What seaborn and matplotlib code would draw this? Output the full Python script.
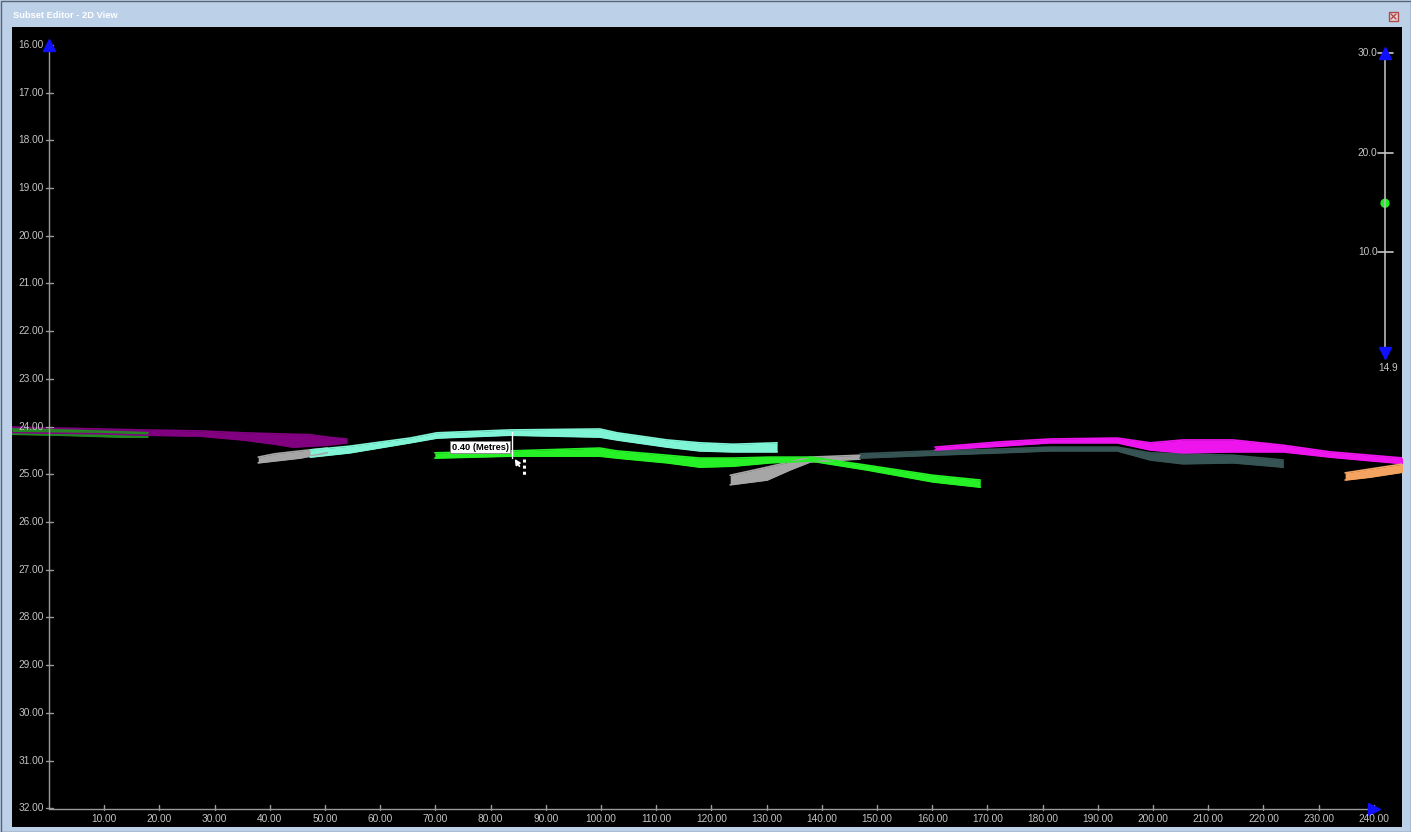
import matplotlib
matplotlib.use("Agg")
import matplotlib.pyplot as plt
from matplotlib.colors import LinearSegmentedColormap
from matplotlib.patches import Rectangle
import numpy as np
import seaborn as sns

# axis ticks of the 2D view (x = distance, y = depth, metres)
x_ticks = [10, 20, 30, 40, 50, 60, 70, 80, 90, 100, 110, 120, 130, 140, 150,
           160, 170, 180, 190, 200, 210, 220, 230, 240]
y_ticks = [16, 17, 18, 19, 20, 21, 22, 23, 24, 25, 26, 27, 28, 29, 30, 31, 32]

# point-cloud bands: x positions with top / bottom depth of each band
purple_x = [-6.7, 9.2, 17.0, 27.4, 35.1, 41.0, 44.2, 47.3, 50.4, 54.0]
purple_top = [24.01, 24.05, 24.07, 24.09, 24.13, 24.15, 24.16, 24.17, 24.22, 24.26]
purple_bot = [24.13, 24.15, 24.18, 24.20, 24.28, 24.37, 24.43, 24.41, 24.39, 24.34]

dkgreen_x = [-6.7, 2.0, 12.9, 17.9]
dkgreen_top = [24.05, 24.07, 24.11, 24.13]
dkgreen_bot = [24.16, 24.18, 24.22, 24.22]

gray1_x = [37.9, 40.9, 45.5, 50.4]
gray1_top = [24.64, 24.57, 24.51, 24.45]
gray1_bot = [24.76, 24.72, 24.66, 24.55]

aqua_x = [47.3, 54.5, 65.4, 70.3, 83.5, 99.8, 102.9, 112.0, 117.9, 123.9, 131.9]
aqua_top = [24.49, 24.41, 24.24, 24.13, 24.07, 24.05, 24.13, 24.28, 24.34, 24.37, 24.34]
aqua_bot = [24.64, 24.55, 24.34, 24.24, 24.18, 24.22, 24.28, 24.43, 24.51, 24.53, 24.53]

gray2_x = [123.4, 130.1, 134.2, 137.9, 146.9]
gray2_top = [25.02, 24.85, 24.74, 24.64, 24.60]
gray2_bot = [25.22, 25.12, 24.91, 24.74, 24.68]

lime_x = [69.9, 83.5, 99.8, 102.9, 112.0, 117.9, 123.9, 130.6, 137.9, 148.2, 160.1, 168.7]
lime_top = [24.55, 24.51, 24.45, 24.51, 24.60, 24.66, 24.66, 24.64, 24.64, 24.81, 25.02, 25.12]
lime_bot = [24.66, 24.62, 24.62, 24.66, 24.76, 24.85, 24.83, 24.76, 24.72, 24.91, 25.16, 25.27]

slate_x = [146.9, 160.1, 172.3, 181.3, 193.5, 199.5, 205.4, 214.5, 223.6]
slate_top = [24.57, 24.51, 24.47, 24.43, 24.43, 24.55, 24.57, 24.60, 24.70]
slate_bot = [24.66, 24.60, 24.55, 24.51, 24.51, 24.70, 24.78, 24.76, 24.85]

magenta_x = [160.5, 172.3, 181.3, 193.5, 199.5, 205.4, 214.5, 223.6, 232.1, 245.5]
magenta_top = [24.43, 24.32, 24.26, 24.24, 24.34, 24.28, 24.28, 24.39, 24.53, 24.66]
magenta_bot = [24.49, 24.41, 24.34, 24.34, 24.49, 24.55, 24.53, 24.53, 24.64, 24.78]

orange_x = [234.8, 239.3, 245.5]
orange_top = [24.97, 24.89, 24.78]
orange_bot = [25.12, 25.06, 24.95]

# measurement between the two surfaces
measure_x = 83.9
measure_top = 24.11
measure_bot = 24.66
measure_label = "0.40 (Metres)"

# colour-range slider on the right
slider_ticks = [10, 20, 30]
slider_value = 14.9

W, H = 1411, 832
fig = plt.figure(figsize=(W / 100, H / 100), dpi=100)
sns.set_style("dark")
plt.rcParams["font.family"] = ["Liberation Sans", "DejaVu Sans"]

# window frame + title bar
frame = fig.add_axes([0, 0, 1, 1], zorder=0)
frame.set_xlim(0, W)
frame.set_ylim(H, 0)
frame.set_axis_off()
frame.add_patch(Rectangle((0, 0), W, H, facecolor="#bcd1e8", edgecolor="none"))
title_cmap = LinearSegmentedColormap.from_list("tb", ["#9bb8de", "#b4cbe7", "#cbdaeb"])
frame.imshow(np.linspace(0, 1, 256).reshape(1, -1), cmap=title_cmap, aspect="auto",
             extent=(1, W - 1, 27, 1))
frame.add_patch(Rectangle((0.5, 0.5), W - 1, H - 1, fill=False, edgecolor="#5a6470", lw=1))
frame.text(13, 15, "Subset Editor - 2D View", color="white", fontsize=6.7,
           fontweight="bold", va="center", ha="left")
frame.add_patch(Rectangle((1389, 12), 9, 9, facecolor="#e8d4d4", edgecolor="#b04a4a", lw=1))
frame.plot([1391, 1396], [14, 19], color="#b04a4a", lw=1)
frame.plot([1391, 1396], [19, 14], color="#b04a4a", lw=1)

# main black view
ax = fig.add_axes([12 / W, (H - 827) / H, 1390 / W, 800 / H], zorder=1)
ax.set_facecolor("black")

bands = [
    ("#800080", purple_x, purple_top, purple_bot),
    ("#228b22", dkgreen_x, dkgreen_top, dkgreen_bot),
    ("#a6a6a6", gray1_x, gray1_top, gray1_bot),
    ("#7ff5d6", aqua_x, aqua_top, aqua_bot),
    ("#a6a6a6", gray2_x, gray2_top, gray2_bot),
    ("#26f026", lime_x, lime_top, lime_bot),
    ("#365454", slate_x, slate_top, slate_bot),
    ("#ee14ee", magenta_x, magenta_top, magenta_bot),
    ("#f4a460", orange_x, orange_top, orange_bot),
]
for color, bx, btop, bbot in bands:
    ax.fill_between(bx, btop, bbot, color=color, lw=0)
    sns.lineplot(x=bx, y=btop, ax=ax, color=color, lw=1.2, estimator=None, sort=False)
    sns.lineplot(x=bx, y=bbot, ax=ax, color=color, lw=1.2, estimator=None, sort=False)

axis_col = "#9a9a9a"
label_col = "#c4c4c4"
x_axis_y = 32.02
ax.plot([0, 0], [y_ticks[0], x_axis_y], color=axis_col, lw=1)
ax.plot([0, x_ticks[-1]], [x_axis_y, x_axis_y], color=axis_col, lw=1)
for yt in y_ticks:
    ax.plot([-0.6, 0.7], [yt, yt], color=axis_col, lw=1)
    ax.text(-0.95, yt, f"{yt:.2f}", color=label_col, fontsize=7.3, ha="right", va="center")
for xt in x_ticks:
    ax.plot([xt, xt], [31.93, x_axis_y + 0.02], color=axis_col, lw=1)
    ax.text(xt, 32.23, f"{xt:.2f}", color=label_col, fontsize=7.3, ha="center", va="center")
ax.plot(0, y_ticks[0], marker="^", color="#1010ff", markersize=9, clip_on=False)
ax.plot(x_ticks[-1], x_axis_y, marker=">", color="#1010ff", markersize=9, clip_on=False)

# measurement line, label and cursor
ax.plot([measure_x, measure_x], [measure_top, measure_bot], color="white", lw=1)
ax.text(measure_x - 0.6, 24.43, measure_label, color="black", fontsize=6.7,
        fontweight="bold", ha="right", va="center",
        bbox=dict(boxstyle="square,pad=0.15", facecolor="white", edgecolor="#808080", lw=0.6))
ax.annotate("", xy=(measure_x + 0.2, 24.63), xytext=(measure_x + 1.6, 24.88),
            arrowprops=dict(arrowstyle="-|>", color="white", lw=1.2, mutation_scale=8))
ax.plot([86.1, 86.1], [24.68, 25.02], color="white", lw=2.2, ls=(0, (1, 1)))

ax.set_xlim(-6.7, 245.1)
ax.set_ylim(32.394, 15.623)
ax.set_xticks([])
ax.set_yticks([])
ax.set_xlabel("")
ax.set_ylabel("")
for s in ax.spines.values():
    s.set_visible(False)

# slider on the right
sl = fig.add_axes([1370 / W, (H - 351.5) / H, 30 / W, 298.5 / H], zorder=2)
sl.set_xlim(-1, 1)
sl.set_ylim(0, 30)
sl.set_axis_off()
sl.plot([0, 0], [-0.45, 30.3], color="#b8b8b8", lw=1.2, clip_on=False)
for st in slider_ticks:
    sl.plot([-0.47, 0.53], [st, st], color="#c8c8c8", lw=1.2, clip_on=False)
    sl.text(-0.5, st, f"{st:.1f}", color=label_col, fontsize=7.3, ha="right", va="center")
sl.plot(0, 30, marker="^", color="#1010ff", markersize=9, clip_on=False)
sl.plot(0, -0.2, marker="v", color="#1010ff", markersize=9, clip_on=False)
sns.scatterplot(x=[0], y=[slider_value], ax=sl, color="#22ee22", s=45,
                edgecolor="none", clip_on=False)
sl.text(0.2, -1.65, f"{slider_value:.1f}", color=label_col, fontsize=7.3,
        ha="center", va="center")

fig.savefig("out.png", dpi=100, facecolor=fig.get_facecolor())
